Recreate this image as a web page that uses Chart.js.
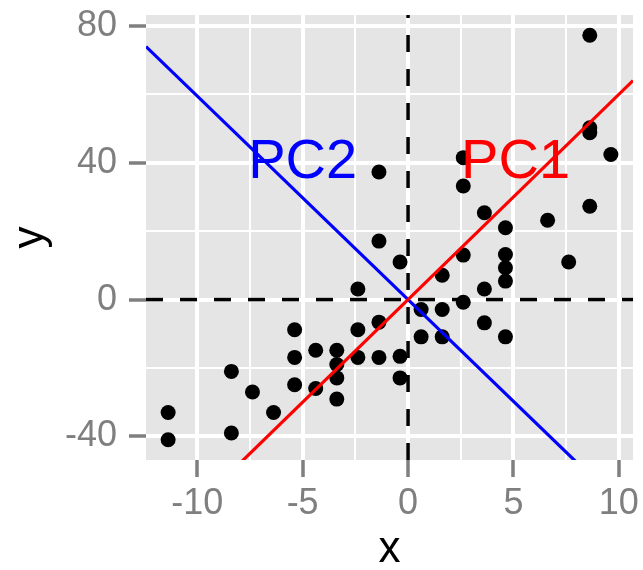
<!DOCTYPE html>
<html><head><meta charset="utf-8">
<script src="https://cdn.jsdelivr.net/npm/chart.js@4/dist/chart.umd.min.js"></script>
<style>html,body{margin:0;padding:0;background:#fff}#wrap{width:643px;height:570px}</style>
</head><body><div id="wrap"><canvas id="c" width="643" height="570"></canvas></div>
<script>
// ---- data ----
const pointX = [8.62, 8.62, 8.62, 9.62, 8.62, 2.62, 2.62, 3.62, 4.62, 6.62,
  -1.38, -1.38, -2.38, -5.38, -2.38, -1.38, -5.38, -4.38, -3.38, -3.38,
  -2.38, -1.38, -5.38, -4.38, -3.38, -3.38, -8.38, -7.38, -6.38, -8.38,
  -11.38, -11.38, -0.38, 2.62, 1.62, 4.62, 4.62, 4.62, 3.62, 7.62,
  2.62, 0.62, 1.62, 3.62, 0.62, 1.62, 4.62, -0.38, -0.38];
const pointY = [77.3, 50.2, 48.8, 42.4, 27.3, 41.5, 33.2, 25.4, 21.0, 23.2,
  37.3, 17.1, 3.1, -8.8, -8.8, -6.6, -16.9, -14.8, -14.8, -19.0,
  -16.9, -16.9, -24.9, -26.0, -22.9, -29.1, -21.0, -27.0, -33.0, -39.0,
  -33.0, -41.0, 11.0, 13.0, 7.1, 13.2, 9.3, 5.4, 3.1, 11.0,
  -0.8, -2.9, -2.9, -6.8, -10.9, -10.9, -10.9, -16.6, -22.9];

const xRange = [-12.43, 10.67];
const yRange = [-46.9, 83.2];
const xTicks = [-10, -7.5, -5, -2.5, 0, 2.5, 5, 7.5, 10];
const yTicks = [-40, -20, 0, 20, 40, 60, 80];
const majorX = [-10, -5, 0, 5, 10];
const majorY = [-40, 0, 40, 80];

const pcNames = ['PC1', 'PC2'];
const pcSlopes = [6.0, -5.95];
const pcColors = ['#FF0000', '#0000FF'];
const pcLabelX = [5.1, -5];
const pcLabelY = [40, 40];

const refX = 0;
const refY = 0;
const xTitle = 'x';
const yTitle = 'y';

// ---- chart ----
const FONT = '"Liberation Sans", Arial, Helvetica, sans-serif';
const TICK_GREY = '#7f7f7f';

const points = pointX.map((x, i) => ({x: x, y: pointY[i]}));

const pcDatasets = pcNames.map((name, i) => ({
  label: name,
  data: xRange.map(x => ({x: x, y: pcSlopes[i] * x})),
  showLine: true,
  borderColor: pcColors[i],
  backgroundColor: pcColors[i],
  borderWidth: 3.2,
  pointRadius: 0,
  clip: 0,
  order: 1
}));

const refDatasets = [
  { label: 'vref', data: yRange.map(y => ({x: refX, y: y})) },
  { label: 'href', data: xRange.map(x => ({x: x, y: refY})) }
].map(d => Object.assign(d, {
  showLine: true, borderColor: '#000', borderWidth: 3.5,
  borderDash: [17, 17], pointRadius: 0, clip: 0, order: 2
}));

const pointDataset = {
  label: 'data', data: points, showLine: false,
  pointRadius: 7.5, pointHoverRadius: 7.5,
  backgroundColor: '#000', borderWidth: 0, order: 3
};

const panelPlugin = {
  id: 'panel',
  beforeDraw(chart) {
    const {ctx, chartArea: a} = chart;
    ctx.save();
    ctx.fillStyle = '#E5E5E5';
    ctx.fillRect(a.left, a.top, a.right - a.left, a.bottom - a.top);
    ctx.restore();
  }
};

const labelPlugin = {
  id: 'pclabels',
  afterDatasetsDraw(chart) {
    const {ctx, scales: {x, y}, chartArea: a} = chart;
    ctx.save();
    ctx.beginPath();
    ctx.rect(a.left, a.top, a.right - a.left, a.bottom - a.top);
    ctx.clip();
    ctx.font = '56px ' + FONT;
    ctx.textAlign = 'center';
    ctx.textBaseline = 'middle';
    pcNames.forEach((n, i) => {
      ctx.fillStyle = pcColors[i];
      ctx.fillText(n, x.getPixelForValue(pcLabelX[i]), y.getPixelForValue(pcLabelY[i]));
    });
    ctx.restore();
  }
};

function noPad(axis) {
  axis.paddingTop = 0; axis.paddingBottom = 0;
  axis.paddingLeft = 0; axis.paddingRight = 0;
}

new Chart(document.getElementById('c'), {
  type: 'scatter',
  data: { datasets: [...pcDatasets, ...refDatasets, pointDataset] },
  options: {
    responsive: false,
    animation: false,
    devicePixelRatio: 1,
    layout: { padding: { top: 15, right: 10, left: 0, bottom: 0 }, autoPadding: false },
    plugins: { legend: { display: false }, tooltip: { enabled: false } },
    scales: {
      x: {
        type: 'linear', min: xRange[0], max: xRange[1],
        afterBuildTicks: axis => { axis.ticks = xTicks.map(v => ({value: v})); },
        afterFit: axis => { axis.height = 110; noPad(axis); },
        border: { display: false },
        grid: {
          color: '#FFFFFF',
          lineWidth: c => majorX.includes(c.tick && c.tick.value) ? 4 : 2,
          tickColor: c => majorX.includes(c.tick && c.tick.value) ? TICK_GREY : 'rgba(0,0,0,0)',
          tickLength: 17, tickWidth: 3.5
        },
        ticks: {
          autoSkip: false, maxRotation: 0, minRotation: 0, padding: 5,
          color: TICK_GREY, font: { family: FONT, size: 36 },
          callback: v => majorX.includes(v) ? String(v) : ''
        },
        title: { display: true, text: xTitle, color: '#000',
          font: { family: FONT, size: 44, lineHeight: 0.92 }, padding: 0 }
      },
      y: {
        type: 'linear', min: yRange[0], max: yRange[1],
        afterBuildTicks: axis => { axis.ticks = yTicks.map(v => ({value: v})); },
        afterFit: axis => { axis.width = 146; noPad(axis); },
        border: { display: false },
        grid: {
          color: '#FFFFFF',
          lineWidth: c => majorY.includes(c.tick && c.tick.value) ? 4 : 2,
          tickColor: c => majorY.includes(c.tick && c.tick.value) ? TICK_GREY : 'rgba(0,0,0,0)',
          tickLength: 17, tickWidth: 3.5
        },
        ticks: {
          autoSkip: false, padding: 12,
          color: TICK_GREY, font: { family: FONT, size: 36 },
          callback: v => majorY.includes(v) ? String(v) : ''
        },
        title: { display: true, text: yTitle, color: '#000',
          font: { family: FONT, size: 44, lineHeight: 1 }, padding: { top: 9, bottom: 0 } }
      }
    }
  },
  plugins: [panelPlugin, labelPlugin]
});
</script></body></html>
